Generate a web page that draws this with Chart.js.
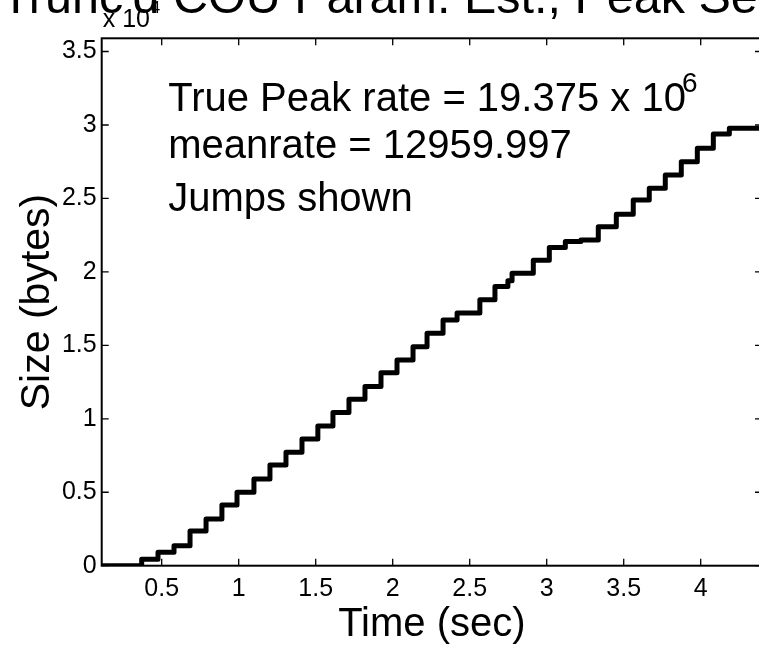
<!DOCTYPE html>
<html>
<head>
<meta charset="utf-8">
<script src="https://cdn.jsdelivr.net/npm/chart.js@4/dist/chart.umd.min.js"></script>
<style>
  html, body { margin: 0; padding: 0; background: #fff; overflow: hidden; }
  #wrap { width: 762px; height: 650px; }
</style>
</head>
<body>
<div id="wrap"><canvas id="chart" width="762" height="650"></canvas></div>
<script>
// jump times (sec) and the size level reached after each jump (x 10^4 bytes)
const jumpTimes = [0.1104, 0.370, 0.476, 0.580, 0.684, 0.788, 0.891, 0.989, 1.099, 1.203,
  1.307, 1.411, 1.514, 1.612, 1.716, 1.820, 1.924, 2.028, 2.132, 2.223,
  2.327, 2.418, 2.566, 2.664, 2.748, 2.775, 2.913, 3.017, 3.121, 3.222,
  3.335, 3.452, 3.562, 3.666, 3.770, 3.874, 3.978, 4.082, 4.186, 4.398];
const sizeLevels = [0, 0.044, 0.091, 0.136, 0.236, 0.318, 0.413, 0.500, 0.590, 0.686,
  0.772, 0.862, 0.951, 1.042, 1.133, 1.219, 1.314, 1.400, 1.491, 1.582,
  1.673, 1.720, 1.810, 1.900, 1.940, 1.990, 2.079, 2.166, 2.206, 2.217,
  2.308, 2.392, 2.489, 2.569, 2.660, 2.750, 2.841, 2.939, 2.978, 2.978];

const xTicks = [0.5, 1, 1.5, 2, 2.5, 3, 3.5, 4];
const yTicks = [0, 0.5, 1, 1.5, 2, 2.5, 3, 3.5];

const titleText = "Trunc'd COU Param. Est., Peak Se";
const noteLines = ['True Peak rate = 19.375 x 10', 'meanrate = 12959.997', 'Jumps shown'];
const noteExp = '6';
const FONT = '"Liberation Sans", Arial, Helvetica, sans-serif';

const points = jumpTimes.map((t, i) => ({ x: t, y: sizeLevels[i] }));

const frame = {
  id: 'frame',
  afterDraw(chart) {
    const { ctx, chartArea: a, scales: { x, y } } = chart;
    ctx.save();
    ctx.strokeStyle = '#000';
    ctx.lineWidth = 2;
    ctx.strokeRect(a.left, a.top, a.right - a.left, a.bottom - a.top);

    // inward ticks on all four sides
    const tl = 7;
    ctx.lineWidth = 1.3;
    ctx.beginPath();
    xTicks.forEach(v => {
      const px = x.getPixelForValue(v);
      ctx.moveTo(px, a.bottom); ctx.lineTo(px, a.bottom - tl);
      ctx.moveTo(px, a.top); ctx.lineTo(px, a.top + tl);
    });
    yTicks.forEach(v => {
      const py = y.getPixelForValue(v);
      ctx.moveTo(a.left, py); ctx.lineTo(a.left + tl, py);
      ctx.moveTo(a.right, py); ctx.lineTo(a.right - tl, py);
    });
    ctx.stroke();

    ctx.fillStyle = '#000';
    ctx.textBaseline = 'alphabetic';
    ctx.textAlign = 'left';

    // exponent label of the y axis
    ctx.font = '25px ' + FONT;
    ctx.fillText('x 10', a.left + 1, 26.7);
    ctx.font = '17px ' + FONT;
    ctx.fillText('4', a.left + 49, 13);

    // title (cut off by the page edges)
    ctx.font = '48.5px ' + FONT;
    ctx.fillText(titleText, 1, 13);

    // annotation
    const nx = a.left + 66.5;
    ctx.font = '40px ' + FONT;
    ctx.fillText(noteLines[0], nx, 110.7);
    const w = ctx.measureText(noteLines[0]).width;
    ctx.fillText(noteLines[1], nx, 157.5);
    ctx.fillText(noteLines[2], nx, 210.5);
    ctx.font = '28px ' + FONT;
    ctx.fillText(noteExp, nx + w - 4, 92);
    ctx.restore();
  }
};

new Chart(document.getElementById('chart').getContext('2d'), {
  type: 'line',
  data: {
    datasets: [{
      data: points,
      stepped: true,
      borderColor: '#000',
      borderWidth: 5,
      borderJoinStyle: 'round',
      pointRadius: 0,
      fill: false
    }]
  },
  options: {
    responsive: false,
    animation: false,
    layout: { padding: { top: 38.3, right: 0, bottom: 0, left: 0 } },
    plugins: { legend: { display: false }, tooltip: { enabled: false } },
    scales: {
      x: {
        type: 'linear',
        min: 0.1104,
        max: 4.398,
        afterBuildTicks: s => { s.ticks = xTicks.map(v => ({ value: v })); },
        afterFit: s => { s.height = 650 - 565.7; },
        grid: { display: false, drawTicks: false },
        border: { display: false },
        ticks: { color: '#000', padding: 8, maxRotation: 0, font: { family: FONT, size: 25 },
          callback: v => String(v) },
        title: { display: true, text: 'Time (sec)', color: '#000',
          font: { family: FONT, size: 40 }, padding: { top: 0, bottom: 1 } }
      },
      y: {
        type: 'linear',
        min: 0,
        max: 3.59,
        afterBuildTicks: s => { s.ticks = yTicks.map(v => ({ value: v })); },
        afterFit: s => { s.width = 101.7; },
        grid: { display: false, drawTicks: false },
        border: { display: false },
        ticks: { color: '#000', padding: 5, font: { family: FONT, size: 25 },
          callback: v => String(v) },
        title: { display: true, text: 'Size (bytes)', color: '#000',
          font: { family: FONT, size: 41 }, padding: { top: 13, bottom: 0 } }
      }
    }
  },
  plugins: [frame]
});
</script>
</body>
</html>
